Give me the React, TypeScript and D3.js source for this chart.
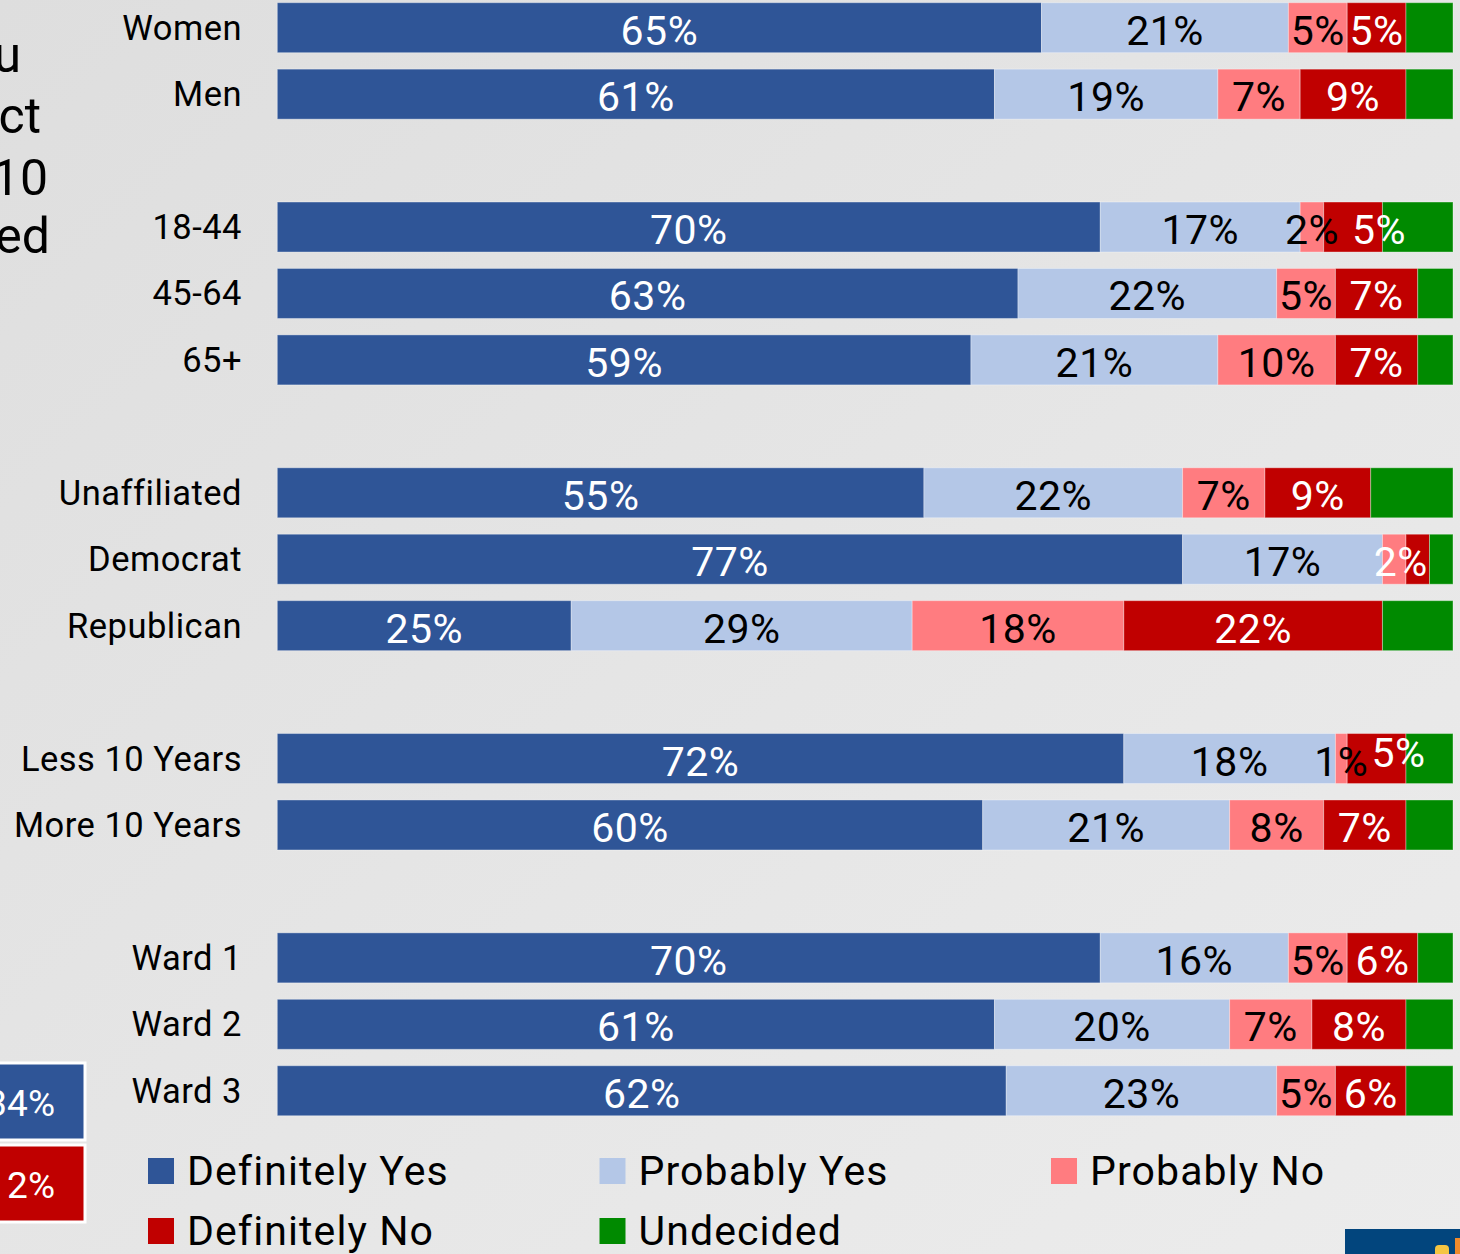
import { useEffect, useRef } from 'react';
import * as d3 from 'd3';

const W = 1460;
const H = 1254;

// Row groups (a blank band separates each group)
const GROUPS = [
  ['Women', 'Men'],
  ['18-44', '45-64', '65+'],
  ['Unaffiliated', 'Democrat', 'Republican'],
  ['Less 10 Years', 'More 10 Years'],
  ['Ward 1', 'Ward 2', 'Ward 3'],
];
const CATEGORIES = GROUPS.flat();

const SERIES = ['Definitely Yes', 'Probably Yes', 'Probably No', 'Definitely No', 'Undecided'];

const DEFINITELY_YES = [65, 61, 70, 63, 59, 55, 77, 25, 72, 60, 70, 61, 62];
const PROBABLY_YES = [21, 19, 17, 22, 21, 22, 17, 29, 18, 21, 16, 20, 23];
const PROBABLY_NO = [5, 7, 2, 5, 10, 7, 2, 18, 1, 8, 5, 7, 5];
const DEFINITELY_NO = [5, 9, 5, 7, 7, 9, 2, 22, 5, 7, 6, 8, 6];
const UNDECIDED = [4, 4, 6, 3, 3, 7, 2, 6, 4, 4, 3, 4, 4];

const COLORS: Record<string, string> = {
  'Definitely Yes': '#2f5597',
  'Probably Yes': '#b4c7e7',
  'Probably No': '#ff7c80',
  'Definitely No': '#c00000',
  Undecided: '#008a00',
};
const LABEL_FILL: Record<string, string> = {
  'Definitely Yes': '#ffffff',
  'Probably Yes': '#000000',
  'Probably No': '#000000',
  'Definitely No': '#ffffff',
};

// labels moved by hand in the original (dx in px, dy in px), or hidden
const LABEL_NUDGE = [
  { row: '18-44', series: 'Definitely No', dx: 26, dy: 0 },
  { row: 'Democrat', series: 'Definitely No', dx: -17, dy: 0 },
  { row: 'Less 10 Years', series: 'Definitely No', dx: 22, dy: -9 },
];
const LABEL_HIDDEN = [{ row: 'Democrat', series: 'Probably No' }];

const FONT = 'Roboto, "Noto Sans", sans-serif';

export default function App() {
  const svgRef = useRef<SVGSVGElement>(null);

  useEffect(() => {
    if (!svgRef.current) return;
    const svg = d3.select(svgRef.current);
    svg.selectAll('*').remove();

    const rows = CATEGORIES.map((c, i) => ({
      category: c,
      'Definitely Yes': DEFINITELY_YES[i],
      'Probably Yes': PROBABLY_YES[i],
      'Probably No': PROBABLY_NO[i],
      'Definitely No': DEFINITELY_NO[i],
      Undecided: UNDECIDED[i],
    }));

    // band keys with spacer bands between groups
    const bandKeys: string[] = [];
    GROUPS.forEach((g, i) => {
      bandKeys.push(...g);
      if (i < GROUPS.length - 1) bandKeys.push(`__gap${i}`);
    });

    const step = 66.44;
    const inner = 0.2474;
    const top = 2.7 - (inner / 2) * step;
    const y = d3.scaleBand<string>()
      .domain(bandKeys)
      .range([top, top + bandKeys.length * step])
      .paddingInner(inner)
      .paddingOuter(inner / 2);

    const x = d3.scaleLinear().domain([0, 100]).range([277.3, 1453]);

    // background
    const defs = svg.append('defs');
    const grad = defs.append('linearGradient')
      .attr('id', 'bg')
      .attr('x1', '0').attr('y1', '0').attr('x2', '1').attr('y2', '1');
    grad.append('stop').attr('offset', '0%').attr('stop-color', '#dedede');
    grad.append('stop').attr('offset', '55%').attr('stop-color', '#e6e6e6');
    grad.append('stop').attr('offset', '100%').attr('stop-color', '#ececec');
    svg.append('rect').attr('width', W).attr('height', H).attr('fill', 'url(#bg)');

    // left-edge fragments of the neighbouring slide text
    const frag = [
      { t: 'u', x: 21, y: 72 },
      { t: 'ct', x: 41, y: 133 },
      { t: '10', x: 48, y: 195 },
      { t: 'ed', x: 50, y: 253 },
    ];
    svg.append('g').selectAll('text')
      .data(frag)
      .join('text')
      .attr('x', (d) => d.x)
      .attr('y', (d) => d.y)
      .attr('text-anchor', 'end')
      .attr('font-family', FONT)
      .attr('font-size', 50)
      .attr('fill', '#000')
      .text((d) => d.t);

    // left-edge boxes of the neighbouring chart
    const boxes = [
      { y: 1063, h: 77, fill: '#2f5597', t: '34%' },
      { y: 1145, h: 77, fill: '#c00000', t: '2%' },
    ];
    const bg = svg.append('g');
    bg.selectAll('rect')
      .data(boxes)
      .join('rect')
      .attr('x', -10)
      .attr('y', (d) => d.y)
      .attr('width', 95)
      .attr('height', (d) => d.h)
      .attr('fill', (d) => d.fill)
      .attr('stroke', '#ffffff')
      .attr('stroke-width', 3);
    bg.selectAll('text')
      .data(boxes)
      .join('text')
      .attr('x', 55)
      .attr('y', (d) => d.y + 53)
      .attr('text-anchor', 'end')
      .attr('font-family', FONT)
      .attr('font-size', 37)
      .attr('fill', '#ffffff')
      .text((d) => d.t);

    // bars
    const stack = d3.stack<any>().keys(SERIES);
    const layers = stack(rows as any);

    const g = svg.append('g');
    layers.forEach((layer) => {
      const key = layer.key;
      g.append('g')
        .selectAll('rect')
        .data(layer)
        .join('rect')
        .attr('x', (d) => x(d[0]))
        .attr('y', (d) => y(d.data.category)!)
        .attr('width', (d) => x(d[1]) - x(d[0]))
        .attr('height', y.bandwidth())
        .attr('fill', COLORS[key])
        .attr('stroke', 'rgba(255,255,255,0.35)')
        .attr('stroke-width', 1);
    });

    // segment labels
    layers.forEach((layer) => {
      const key = layer.key;
      if (key === 'Undecided') return;
      const pts = layer.filter((d) =>
        !LABEL_HIDDEN.some((h) => h.row === d.data.category && h.series === key));
      g.append('g')
        .selectAll('text')
        .data(pts)
        .join('text')
        .attr('x', (d) => {
          const n = LABEL_NUDGE.find((m) => m.row === d.data.category && m.series === key);
          return (x(d[0]) + x(d[1])) / 2 + (n ? n.dx : 0);
        })
        .attr('y', (d) => {
          const n = LABEL_NUDGE.find((m) => m.row === d.data.category && m.series === key);
          return y(d.data.category)! + y.bandwidth() / 2 + 17 + (n ? n.dy : 0);
        })
        .attr('text-anchor', 'middle')
        .attr('font-family', FONT)
        .attr('font-size', 41)
        .attr('letter-spacing', 0.5)
        .attr('fill', LABEL_FILL[key])
        .text((d) => `${d[1] - d[0]}%`);
    });

    // category axis labels
    svg.append('g')
      .selectAll('text')
      .data(CATEGORIES)
      .join('text')
      .attr('x', 242)
      .attr('y', (d) => y(d)! + y.bandwidth() / 2 + 12)
      .attr('text-anchor', 'end')
      .attr('font-family', FONT)
      .attr('font-size', 34.5)
      .attr('letter-spacing', 0.5)
      .attr('fill', '#000')
      .text((d) => d);

    // legend
    const legend = svg.append('g');
    SERIES.forEach((s, i) => {
      const col = i % 3;
      const row = Math.floor(i / 3);
      const item = legend.append('g')
        .attr('transform', `translate(${148 + col * 451.5},${1171 + row * 60})`);
      item.append('rect')
        .attr('x', 0).attr('y', -13)
        .attr('width', 26).attr('height', 26)
        .attr('fill', COLORS[s]);
      item.append('text')
        .attr('x', 39)
        .attr('y', 14)
        .attr('font-family', FONT)
        .attr('font-size', 41)
        .attr('letter-spacing', 1.1)
        .attr('fill', '#000')
        .text(s);
    });

    // corner logo fragment
    const logo = svg.append('g');
    logo.append('rect')
      .attr('x', 1345).attr('y', 1229)
      .attr('width', W - 1345).attr('height', H - 1229)
      .attr('fill', '#02457d');
    logo.append('rect')
      .attr('x', 1435).attr('y', 1245)
      .attr('width', 14).attr('height', 14).attr('rx', 4)
      .attr('fill', '#f5c542');
    logo.append('rect')
      .attr('x', 1455).attr('y', 1238)
      .attr('width', 8).attr('height', 20)
      .attr('fill', '#f08a2c');
  }, []);

  return (
    <svg
      ref={svgRef}
      width={W}
      height={H}
      style={{ position: 'absolute', left: 0, top: 0, display: 'block' }}
    />
  );
}
